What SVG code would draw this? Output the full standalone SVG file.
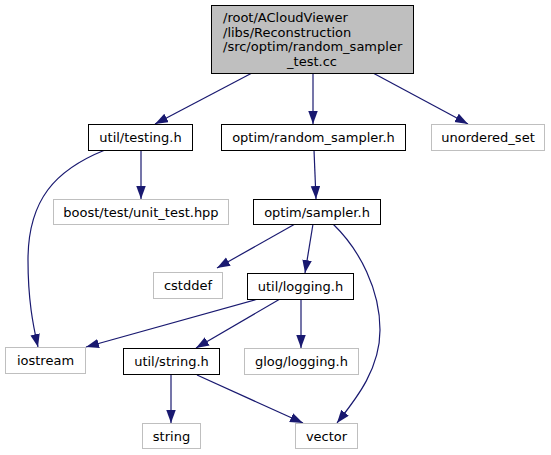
<svg xmlns="http://www.w3.org/2000/svg" width="551" height="455" viewBox="0 0 551 455">
<defs>
<style>
.n rect{fill:#fff;stroke:#000;stroke-width:1}
.x rect{fill:#fff;stroke:#bfbfbf;stroke-width:1}
text{font-family:"DejaVu Sans",sans-serif;font-size:13px;fill:#000}
.c{text-anchor:middle}
.e path{fill:none;stroke:#191970;stroke-width:1.2}
</style>
<marker id="a" markerUnits="userSpaceOnUse" markerWidth="14" markerHeight="11" refX="13" refY="4.75" orient="auto">
<path d="M0,0 L13,4.75 L0,9.5 z" fill="#191970" stroke="none"/>
</marker>
</defs>
<rect width="551" height="455" fill="#fff"/>
<g id="connectors" class="e">
<path d="M252,73 L155,124" marker-end="url(#a)"/>
<path d="M313,73 L313,124" marker-end="url(#a)"/>
<path d="M373,73 L468,124" marker-end="url(#a)"/>
<path d="M141,150 L141,199" marker-end="url(#a)"/>
<path d="M105,150 C55,170 28,200 28,260 C28,300 33,325 38,347" marker-end="url(#a)"/>
<path d="M314,150 L316,199" marker-end="url(#a)"/>
<path d="M295,224 L217,268" marker-end="url(#a)"/>
<path d="M313,224 L305,273" marker-end="url(#a)"/>
<path d="M333,224 C360,250 380,290 380,330 C380,370 355,400 337,423" marker-end="url(#a)"/>
<path d="M258,299 L86,347" marker-end="url(#a)"/>
<path d="M280,299 L196,348" marker-end="url(#a)"/>
<path d="M301,299 L301,348" marker-end="url(#a)"/>
<path d="M171,374 L171,423" marker-end="url(#a)"/>
<path d="M197,375 L303,423" marker-end="url(#a)"/>
</g>
<g id="root">
<rect x="211.5" y="5.5" width="202" height="68" fill="#bfbfbf" stroke="#000"/>
<text x="223" y="22">/root/ACloudViewer</text>
<text x="223" y="36.5">/libs/Reconstruction</text>
<text x="223" y="51">/src/optim/random_sampler</text>
<text x="312" y="65.5" class="c">_test.cc</text>
</g>
<g id="testing" class="n"><rect x="88.5" y="124.5" width="104" height="26"/><text x="140.5" y="141.5" class="c">util/testing.h</text></g>
<g id="random_sampler" class="n"><rect x="221.5" y="124.5" width="184" height="26"/><text x="313.5" y="141.5" class="c">optim/random_sampler.h</text></g>
<g id="unordered_set" class="x"><rect x="431.5" y="124.5" width="113" height="26"/><text x="488" y="141.5" class="c">unordered_set</text></g>
<g id="boost" class="x"><rect x="53.5" y="199.5" width="175" height="25"/><text x="141" y="216.5" class="c">boost/test/unit_test.hpp</text></g>
<g id="sampler" class="n"><rect x="253.5" y="199.5" width="127" height="25"/><text x="317" y="216.5" class="c">optim/sampler.h</text></g>
<g id="cstddef" class="x"><rect x="153.5" y="272.5" width="69" height="26"/><text x="188" y="289.5" class="c">cstddef</text></g>
<g id="logging" class="n"><rect x="247.5" y="273.5" width="106" height="26"/><text x="300.5" y="290.5" class="c">util/logging.h</text></g>
<g id="iostream" class="x"><rect x="5.5" y="347.5" width="80" height="26"/><text x="45.5" y="364.5" class="c">iostream</text></g>
<g id="stringh" class="n"><rect x="123.5" y="348.5" width="96" height="26"/><text x="171.5" y="365.5" class="c">util/string.h</text></g>
<g id="glog" class="x"><rect x="244.5" y="348.5" width="114" height="26"/><text x="301.5" y="365.5" class="c">glog/logging.h</text></g>
<g id="string" class="x"><rect x="142.5" y="423.5" width="58" height="25"/><text x="171.5" y="440.5" class="c">string</text></g>
<g id="vector" class="x"><rect x="295.5" y="423.5" width="62" height="25"/><text x="326.5" y="440.5" class="c">vector</text></g>
</svg>
